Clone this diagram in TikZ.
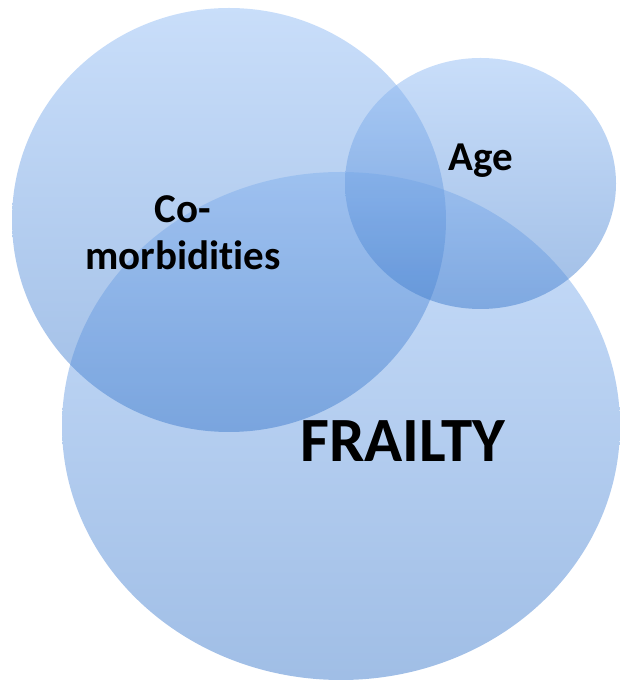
\documentclass[tikz,border=0pt]{standalone}
\usepackage{fontspec}
\setmainfont{Carlito}[Ligatures={NoCommon,NoContextual}]
\definecolor{gtop}{RGB}{147,189,245}
\definecolor{gbot}{RGB}{65,125,205}
\tikzset{
  blob/.style={top color=gtop, bottom color=gbot, fill opacity=0.5, draw=none},
  lbl/.style={inner sep=0pt, text=black, font=\bfseries\fontsize{41}{47}\selectfont, align=center}
}
\begin{document}
\begin{tikzpicture}[x=1pt,y=1pt]
\useasboundingbox (0,0) rectangle (619,680);
\shade[blob] (341,254) ellipse [x radius=279, y radius=254];
\shade[blob] (229,460) ellipse [x radius=217, y radius=212];
\shade[blob] (480.5,496.5) ellipse [x radius=135.5, y radius=125.5];
\node[lbl, anchor=south] (como) at (183,410) {Co-\\morbidities};
\node[lbl, anchor=base] (age) at (480.5,509) {Age};
\node[lbl, anchor=base, font=\bfseries\fontsize{63}{70}\selectfont] (frailty) at (403,218) {FRAILTY};
\end{tikzpicture}
\end{document}
